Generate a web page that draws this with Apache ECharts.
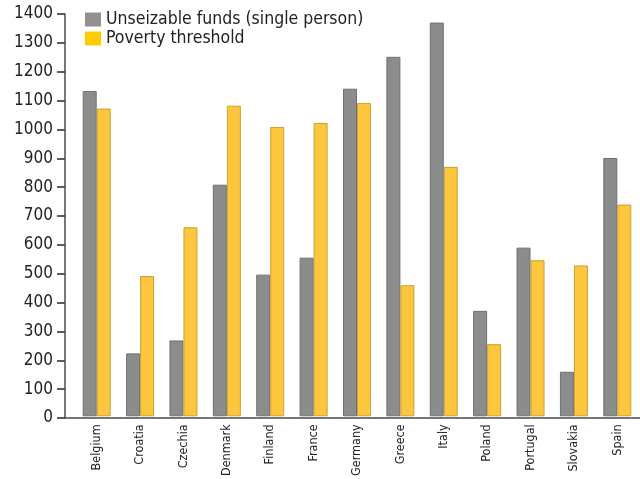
<!DOCTYPE html>
<html><head><meta charset="utf-8">
<script src="https://cdn.jsdelivr.net/npm/echarts@6/dist/echarts.min.js"></script>
<style>html,body{margin:0;padding:0;background:#fff}#c{width:640px;height:479px}</style>
</head><body><div id="c"></div>
<script>
const categories = ['Belgium','Croatia','Czechia','Denmark','Finland','France','Germany','Greece','Italy','Poland','Portugal','Slovakia','Spain'];
const unseizable = [1132, 219, 264, 806, 493, 552, 1140, 1251, 1370, 367, 587, 155, 899];
const poverty = [1071, 488, 658, 1081, 1007, 1021, 1090, 456, 868, 251, 543, 525, 737];
const seriesNames = ['Unseizable funds (single person)', 'Poverty threshold'];

const FONT = 'DejaVu Sans Condensed';
const AX = '#4a4a4a';
const chart = echarts.init(document.getElementById('c'), null, {renderer:'canvas'});
chart.setOption({
  animation:false,
  textStyle:{fontFamily:FONT},
  legend:{
    orient:'vertical', left:80, top:5, itemWidth:16, itemHeight:14, itemGap:0,
    icon:'rect',
    textStyle:{fontSize:17.5, lineHeight:19, color:'#222', fontFamily:FONT},
    data:[{name:seriesNames[0], itemStyle:{color:'#939190', borderWidth:0}},
          {name:seriesNames[1], itemStyle:{color:'#ffcc00', borderWidth:0}}]
  },
  grid:[
    {left:65, right:0, top:14, bottom:61},
    {left:75, right:1, top:14, bottom:61}
  ],
  xAxis:[
    {gridIndex:0, type:'value', min:0, max:1, show:true,
     axisLine:{show:true, onZero:false, lineStyle:{color:AX, width:1.5}},
     axisTick:{show:false}, axisLabel:{show:false}, splitLine:{show:false}},
    {gridIndex:1, type:'category', data:categories, boundaryGap:true,
     axisLine:{show:false},
     axisTick:{show:false},
     axisLabel:{rotate:90, fontSize:12.5, color:'#222', margin:8, fontFamily:FONT}}
  ],
  yAxis:[
    {gridIndex:0, type:'value', min:0, max:1400, interval:100,
     axisLine:{show:true, onZero:false, lineStyle:{color:AX, width:1.5}},
     axisTick:{show:true, inside:false, length:8, lineStyle:{color:AX, width:1.8}},
     splitLine:{show:false},
     axisLabel:{fontSize:17, color:'#222', margin:12, fontFamily:FONT, formatter:function(v){return String(v);}}},
    {gridIndex:1, type:'value', min:0, max:1400, interval:100, show:false, splitLine:{show:false}}
  ],
  series:[
    {name:seriesNames[0], type:'bar', xAxisIndex:1, yAxisIndex:1, data:unseizable, barWidth:14, barGap:'0%',
     itemStyle:{color:'#8b8d8d', borderColor:'#6f7070', borderWidth:1}},
    {name:seriesNames[1], type:'bar', xAxisIndex:1, yAxisIndex:1, data:poverty, barWidth:14,
     itemStyle:{color:'#fcc73d', borderColor:'#c9a03a', borderWidth:1}}
  ]
});
</script></body></html>
